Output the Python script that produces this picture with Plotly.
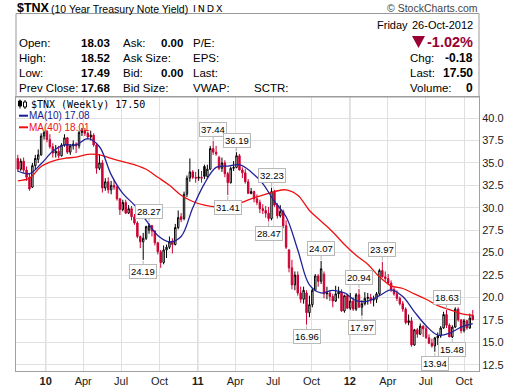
import plotly.graph_objects as go
import pandas as pd

# ---------------- data (weekly $TNX, values x10) ----------------
WEEK_START = "2009-10-26"   # Monday of first weekly bar
N_WEEKS = 157

OPEN = [35.5, 34.3, 35.2, 34.2, 33.4, 32.3, 34.7, 35.4, 35.9, 38.0,
        38.5, 37.6, 36.8, 36.1, 36.3, 35.8, 37.0, 37.8, 36.2, 36.9,
        37.1, 36.9, 38.4, 38.6, 38.3, 37.9, 38.1, 37.0, 34.4, 35.0,
        32.2, 32.9, 32.0, 32.5, 32.3, 31.0, 29.8, 30.6, 29.4, 29.9,
        29.0, 28.3, 26.8, 26.2, 26.6, 27.5, 28.0, 27.4, 26.1, 25.1,
        23.9, 25.3, 25.6, 26.2, 25.9, 27.8, 29.0, 28.8, 31.5, 33.3,
        34.0, 33.4, 33.3, 33.4, 34.6, 33.5, 34.3, 36.6, 36.2, 35.6,
        34.4, 35.0, 33.8, 32.8, 34.4, 34.5, 35.8, 34.2, 33.9, 32.9,
        31.6, 31.8, 31.0, 30.6, 29.9, 29.7, 29.4, 28.8, 31.8, 30.3,
        29.1, 29.6, 28.0, 25.3, 23.3, 21.4, 22.5, 20.5, 19.8, 20.5,
        18.3, 19.2, 20.8, 22.4, 21.8, 22.6, 20.4, 20.5, 20.1, 19.6,
        20.4, 20.6, 18.5, 20.2, 18.8, 19.6, 18.7, 20.3, 18.9, 19.3,
        19.9, 20.0, 19.7, 19.8, 20.4, 23.0, 22.3, 22.1, 21.6, 20.9,
        20.4, 19.9, 19.3, 18.7, 17.2, 17.4, 14.7, 16.4, 15.9, 16.8,
        16.5, 15.5, 14.9, 14.6, 15.5, 15.7, 16.6, 18.1, 16.9, 15.6,
        16.7, 18.7, 17.5, 16.3, 17.4, 16.6, 18.0]
HIGH = [35.9, 35.5, 35.6, 34.6, 33.8, 35.0, 35.9, 36.5, 38.3, 38.6,
        38.7, 38.2, 37.2, 37.0, 36.9, 37.2, 38.2, 37.9, 37.1, 37.5,
        37.3, 38.6, 38.9, 38.9, 38.5, 38.6, 38.3, 37.2, 36.0, 35.3,
        33.3, 33.4, 33.0, 33.1, 32.5, 31.1, 30.9, 30.9, 30.3, 30.2,
        29.3, 28.5, 26.9, 27.2, 28.0, 28.27, 28.1, 27.5, 26.2, 25.3,
        25.8, 25.9, 26.8, 26.6, 28.2, 29.7, 29.4, 31.8, 33.6, 35.5,
        34.2, 34.0, 34.3, 34.1, 34.8, 34.8, 36.9, 37.44, 36.9, 35.8,
        35.6, 35.3, 34.0, 34.6, 35.2, 36.19, 36.0, 34.5, 34.3, 33.2,
        32.2, 31.9, 31.5, 30.9, 30.4, 30.2, 30.1, 32.23, 32.0, 30.5,
        30.3, 29.8, 28.6, 25.4, 24.2, 22.9, 22.9, 21.2, 21.2, 20.8,
        20.2, 21.0, 22.6, 22.6, 24.07, 22.9, 21.2, 20.8, 20.4, 21.3,
        21.2, 20.9, 20.3, 20.4, 20.5, 20.0, 20.5, 20.94, 19.7, 20.6,
        20.5, 20.4, 20.2, 20.6, 23.2, 23.97, 22.9, 22.6, 21.9, 21.1,
        20.8, 20.1, 19.6, 18.9, 18.1, 17.8, 16.5, 16.6, 17.1, 16.9,
        16.8, 15.9, 15.4, 15.6, 16.1, 16.8, 18.4, 18.63, 17.1, 16.9,
        18.9, 18.9, 17.6, 17.6, 17.5, 18.2, 18.6]
LOW = [34.0, 34.1, 33.9, 33.0, 31.9, 32.2, 34.3, 35.0, 35.8, 37.6,
       37.3, 36.6, 35.6, 35.6, 35.5, 35.7, 36.8, 36.0, 35.9, 36.5,
       36.1, 36.6, 38.0, 38.0, 37.6, 37.5, 36.8, 33.8, 34.2, 31.7,
       31.9, 31.6, 31.5, 32.0, 30.8, 29.2, 29.6, 29.3, 29.3, 28.6,
       28.1, 26.6, 25.5, 24.19, 26.4, 27.1, 26.8, 25.8, 24.8, 23.3,
       23.7, 24.4, 25.4, 24.9, 25.8, 27.6, 28.4, 28.6, 31.2, 32.9,
       33.2, 32.8, 33.0, 32.8, 33.2, 33.2, 34.2, 35.9, 35.8, 34.2,
       34.0, 33.4, 31.41, 32.7, 34.1, 34.4, 34.2, 33.3, 32.7, 31.6,
       31.5, 30.6, 30.3, 29.4, 29.3, 28.9, 28.47, 28.6, 30.1, 28.8,
       28.9, 27.7, 25.4, 22.8, 20.9, 20.8, 20.2, 19.4, 19.3, 16.96,
       17.8, 18.9, 20.7, 21.2, 21.5, 19.9, 19.8, 19.6, 18.9, 19.5,
       19.9, 18.4, 18.3, 18.7, 18.6, 18.5, 18.5, 18.9, 17.97, 19.1,
       19.2, 19.3, 19.0, 19.4, 20.2, 22.2, 21.8, 21.4, 20.6, 20.2,
       19.6, 19.1, 18.4, 17.0, 16.9, 14.5, 14.6, 15.5, 15.8, 15.6,
       15.4, 14.8, 14.4, 13.94, 14.7, 15.5, 16.5, 16.6, 15.6, 15.48,
       16.6, 17.3, 16.0, 16.1, 16.4, 16.5, 17.49]
CLOSE = [34.3, 35.2, 34.2, 33.4, 32.1, 34.7, 35.5, 35.9, 38.0, 38.4,
         37.6, 36.8, 36.1, 36.3, 35.8, 37.0, 37.8, 36.2, 36.9, 37.1,
         36.9, 38.4, 38.6, 38.3, 37.9, 38.1, 37.0, 34.4, 35.0, 32.2,
         32.9, 32.0, 32.5, 32.3, 31.0, 29.8, 30.6, 29.4, 29.9, 29.0,
         28.3, 26.8, 26.2, 26.6, 27.9, 28.0, 27.4, 26.1, 25.1, 23.9,
         25.3, 25.6, 26.2, 25.9, 27.8, 28.9, 28.7, 31.5, 33.3, 34.0,
         33.4, 33.3, 33.4, 33.3, 33.5, 34.3, 36.6, 36.2, 36.0, 34.4,
         35.0, 33.8, 32.8, 34.4, 34.5, 35.8, 34.2, 33.9, 32.9, 31.6,
         31.8, 31.0, 30.6, 29.9, 29.7, 29.4, 28.8, 31.8, 30.3, 29.1,
         29.6, 28.0, 25.6, 23.3, 21.4, 22.5, 20.5, 19.8, 20.8, 18.3,
         19.2, 20.8, 22.4, 21.8, 23.2, 20.4, 20.5, 20.1, 19.6, 20.4,
         20.6, 18.5, 20.2, 18.8, 19.6, 18.7, 20.3, 18.9, 19.3, 19.9,
         20.0, 19.7, 19.8, 20.4, 23.0, 22.3, 22.1, 21.6, 20.9, 20.4,
         19.9, 19.3, 18.7, 17.2, 17.4, 14.7, 16.4, 15.9, 16.8, 16.5,
         15.5, 14.9, 14.6, 15.5, 15.7, 16.6, 18.1, 16.9, 15.6, 16.7,
         18.7, 17.5, 16.3, 17.4, 16.6, 17.7, 17.50]

# moving averages, one value every 4th weekly bar
MA_STEP_WEEKS = 4
MA10 = [34.1, 33.8, 34.9, 36.3, 37.0, 37.0, 37.7, 36.8, 33.7, 31.6,
        30.3, 28.6, 26.9, 26.2, 26.8, 30.0, 32.7, 34.5, 34.65, 34.8,
        34.0, 32.7, 30.7, 29.0, 25.3, 21.4, 20.5, 20.8, 20.5, 19.65,
        19.6, 20.2, 20.85, 20.1, 18.4, 16.85, 15.8, 16.0, 16.7, 17.08]
MA40 = [33.0, 33.3, 34.6, 35.2, 35.5, 35.65, 35.95, 35.9, 35.5, 35.15,
        34.8, 34.3, 33.4, 32.5, 31.4, 30.7, 30.3, 30.1, 30.2, 30.5,
        31.0, 31.4, 31.8, 32.0, 31.4, 29.7, 28.5, 27.3, 25.9, 24.7,
        23.7, 22.3, 21.3, 21.0, 20.4, 19.8, 19.1, 18.65, 18.2, 18.01]

# swing labels: weekly bar index, value, kind
LABEL_WEEK = [43, 45, 67, 72, 75, 86, 87, 99, 104, 117, 118, 125, 143, 147, 149]
LABEL_VALUE = [24.19, 28.27, 37.44, 31.41, 36.19, 28.47, 32.23, 16.96, 24.07,
               20.94, 17.97, 23.97, 13.94, 18.63, 15.48]
LABEL_KIND = ["low", "high", "high", "low", "high", "low", "high", "low", "high",
              "high", "low", "high", "low", "high", "low"]

X_TICKS = ["2010-01-01", "2010-04-01", "2010-07-01", "2010-10-01",
           "2011-01-01", "2011-04-01", "2011-07-01", "2011-10-01",
           "2012-01-01", "2012-04-01", "2012-07-01", "2012-10-01"]
X_TICKTEXT = ["<b>10</b>", "Apr", "Jul", "Oct", "<b>11</b>", "Apr", "Jul", "Oct",
              "<b>12</b>", "Apr", "Jul", "Oct"]
YEAR_LINES = ["2010-01-01", "2011-01-01", "2012-01-01"]
Y_TICKS = [12.5, 15.0, 17.5, 20.0, 22.5, 25.0, 27.5, 30.0, 32.5, 35.0, 37.5, 40.0]

# ---------------- figure ----------------
dates = pd.date_range(WEEK_START, periods=N_WEEKS, freq="7D")
ma_dates = dates[::MA_STEP_WEEKS]

RED = "#cc0033"
FONT = "Arial, Liberation Sans, sans-serif"

black_idx, red_idx = [], []
for i in range(N_WEEKS):
    prev = CLOSE[i - 1] if i > 0 else OPEN[0]
    (black_idx if CLOSE[i] >= prev else red_idx).append(i)


def candle(idx, color):
    return go.Candlestick(
        x=[dates[i] for i in idx],
        open=[OPEN[i] for i in idx], high=[HIGH[i] for i in idx],
        low=[LOW[i] for i in idx], close=[CLOSE[i] for i in idx],
        increasing=dict(line=dict(color=color, width=1), fillcolor="white"),
        decreasing=dict(line=dict(color=color, width=1), fillcolor=color),
        whiskerwidth=0, showlegend=False, hoverinfo="skip")


fig = go.Figure()
fig.add_trace(go.Scatter(x=ma_dates, y=MA40, mode="lines", line=dict(color="#ee1111", width=1.3, shape="spline"),
                         showlegend=False, hoverinfo="skip"))
fig.add_trace(candle(black_idx, "black"))
fig.add_trace(candle(red_idx, RED))
fig.add_trace(go.Scatter(x=ma_dates, y=MA10, mode="lines", line=dict(color="#22229a", width=1.3, shape="spline"),
                         showlegend=False, hoverinfo="skip"))

L, R, T, B = 16, 479, 97, 371
W, H = R - L, B - T


def px(x):
    return (x - L) / W


def py(y):
    return (B - y) / H


ann = []


def txt(x, y, text, size=11.5, color="#000000", anchor="left", family=FONT):
    ann.append(dict(xref="paper", yref="paper", x=px(x), y=py(y), text=text, showarrow=False,
                    xanchor=anchor, yanchor="middle", font=dict(size=size, color=color, family=family)))


# title row
txt(15, 8, "<b>$TNX</b>", size=12.5)
txt(49, 8.5, "(10 Year Treasury Note Yield)", size=10.5)
txt(191, 8.5, "I\u2009N\u2009D\u2009X", size=9.5, family="DejaVu Sans")
txt(480, 8, "© StockCharts.com", size=10.5, color="#444444", anchor="right")

# header table
rows = [42.5, 57.5, 72.5, 88]
for y, lab, val in zip(rows, ["Open:", "High:", "Low:", "Prev Close:"], ["18.03", "18.52", "17.49", "17.68"]):
    txt(17, y, lab)
    txt(112, y, "<b>" + val + "</b>", anchor="right")
for y, lab in zip(rows, ["Ask:", "Ask Size:", "Bid:", "Bid Size:"]):
    txt(121, y, lab)
txt(185, rows[0], "<b>0.00</b>", anchor="right")
txt(185, rows[2], "<b>0.00</b>", anchor="right")
for y, lab in zip(rows, ["P/E:", "EPS:", "Last:", "VWAP:"]):
    txt(191, y, lab)
txt(252, rows[3], "SCTR:")
txt(375, 25.5, "Friday", size=11)
txt(475, 25.5, "26-Oct-2012", size=11, anchor="right")
txt(475, 42, "<b>-1.02%</b>", size=14.5, color="#990033", anchor="right")
for y, lab, val in zip([57.5, 72.5, 88.5], ["Chg:", "Last:", "Volume:"], ["-0.18", "17.50", "0"]):
    txt(408, y, lab)
    txt(475, y, "<b>" + val + "</b>", size=12, anchor="right")

# in-chart legend
txt(29, 104, "$TNX (Weekly) 17.50", size=10, family="DejaVu Sans Mono")
txt(27, 115.7, "MA(10) 17.08", size=10, color="#1a1a90")
txt(27, 127.3, "MA(40) 18.01", size=10, color="#ee1111")

# swing labels
for wk, val, kind in zip(LABEL_WEEK, LABEL_VALUE, LABEL_KIND):
    ann.append(dict(x=dates[wk], y=val, xref="x", yref="y", text=f"{val:.2f}",
                    showarrow=True, arrowhead=0, arrowwidth=1, arrowcolor="#b8b8b8",
                    ax=0, ay=-12 if kind == "high" else 12, standoff=1,
                    bgcolor="white", bordercolor="#b8b8b8", borderwidth=1, borderpad=1,
                    font=dict(size=9.5, family=FONT, color="#000000")))

shapes = []
for d in YEAR_LINES:
    shapes.append(dict(type="line", xref="x", yref="paper", x0=d, x1=d, y0=0, y1=1,
                       line=dict(color="#b0b0b0", width=1), layer="below"))
# header box
shapes.append(dict(type="rect", xref="paper", yref="paper", x0=px(L), x1=px(R), y0=py(T), y1=py(13.5),
                   line=dict(color="#999999", width=1)))
# down triangle
shapes.append(dict(type="path", xref="paper", yref="paper",
                   path=f"M {px(412)},{py(36)} L {px(425)},{py(36)} L {px(418.5)},{py(48)} Z",
                   fillcolor="#990033", line=dict(width=0)))
# legend swatches
shapes.append(dict(type="line", xref="paper", yref="paper", x0=px(19), x1=px(28), y0=py(115.7), y1=py(115.7),
                   line=dict(color="#1a1a90", width=2)))
shapes.append(dict(type="line", xref="paper", yref="paper", x0=px(19), x1=px(28), y0=py(127.3), y1=py(127.3),
                   line=dict(color="#ee1111", width=2)))
# candle icon
for cx, top, bot, b1, b2, fill in [(20, 99.5, 108.5, 101, 106, "black"), (25, 100, 109, 102, 107, "white")]:
    shapes.append(dict(type="line", xref="paper", yref="paper", x0=px(cx), x1=px(cx), y0=py(bot), y1=py(top),
                       line=dict(color="black", width=1)))
    shapes.append(dict(type="rect", xref="paper", yref="paper", x0=px(cx - 1.5), x1=px(cx + 1.5),
                       y0=py(b2), y1=py(b1), fillcolor=fill, line=dict(color="black", width=1)))

fig.update_layout(
    width=511, height=390, margin=dict(l=L, r=511 - R, t=T, b=390 - B, autoexpand=False),
    paper_bgcolor="white", plot_bgcolor="white", showlegend=False,
    font=dict(family=FONT, size=11, color="#222222"),
    annotations=ann, shapes=shapes,
    xaxis=dict(type="date", range=["2009-10-21 16:00", "2012-11-06"], tickmode="array",
               tickvals=X_TICKS, ticktext=X_TICKTEXT, showgrid=True, gridcolor="#e0e0e0", gridwidth=1,
               ticks="", showline=True, linecolor="#a0a0a0", mirror=True, zeroline=False,
               rangeslider=dict(visible=False), tickfont=dict(size=11, color="#222222")),
    yaxis=dict(side="right", range=[11.8, 42.35], tickmode="array", tickvals=Y_TICKS,
               ticktext=[f"{v:.1f}" for v in Y_TICKS], showgrid=True, gridcolor="#e0e0e0",
               ticks="", showline=True, linecolor="#a0a0a0", mirror=True, zeroline=False,
               tickfont=dict(size=11, color="#222222")),
)

fig.write_html("out.html", config={"displayModeBar": False},
               post_script="document.body.style.margin='0';document.body.style.overflow='hidden';")
